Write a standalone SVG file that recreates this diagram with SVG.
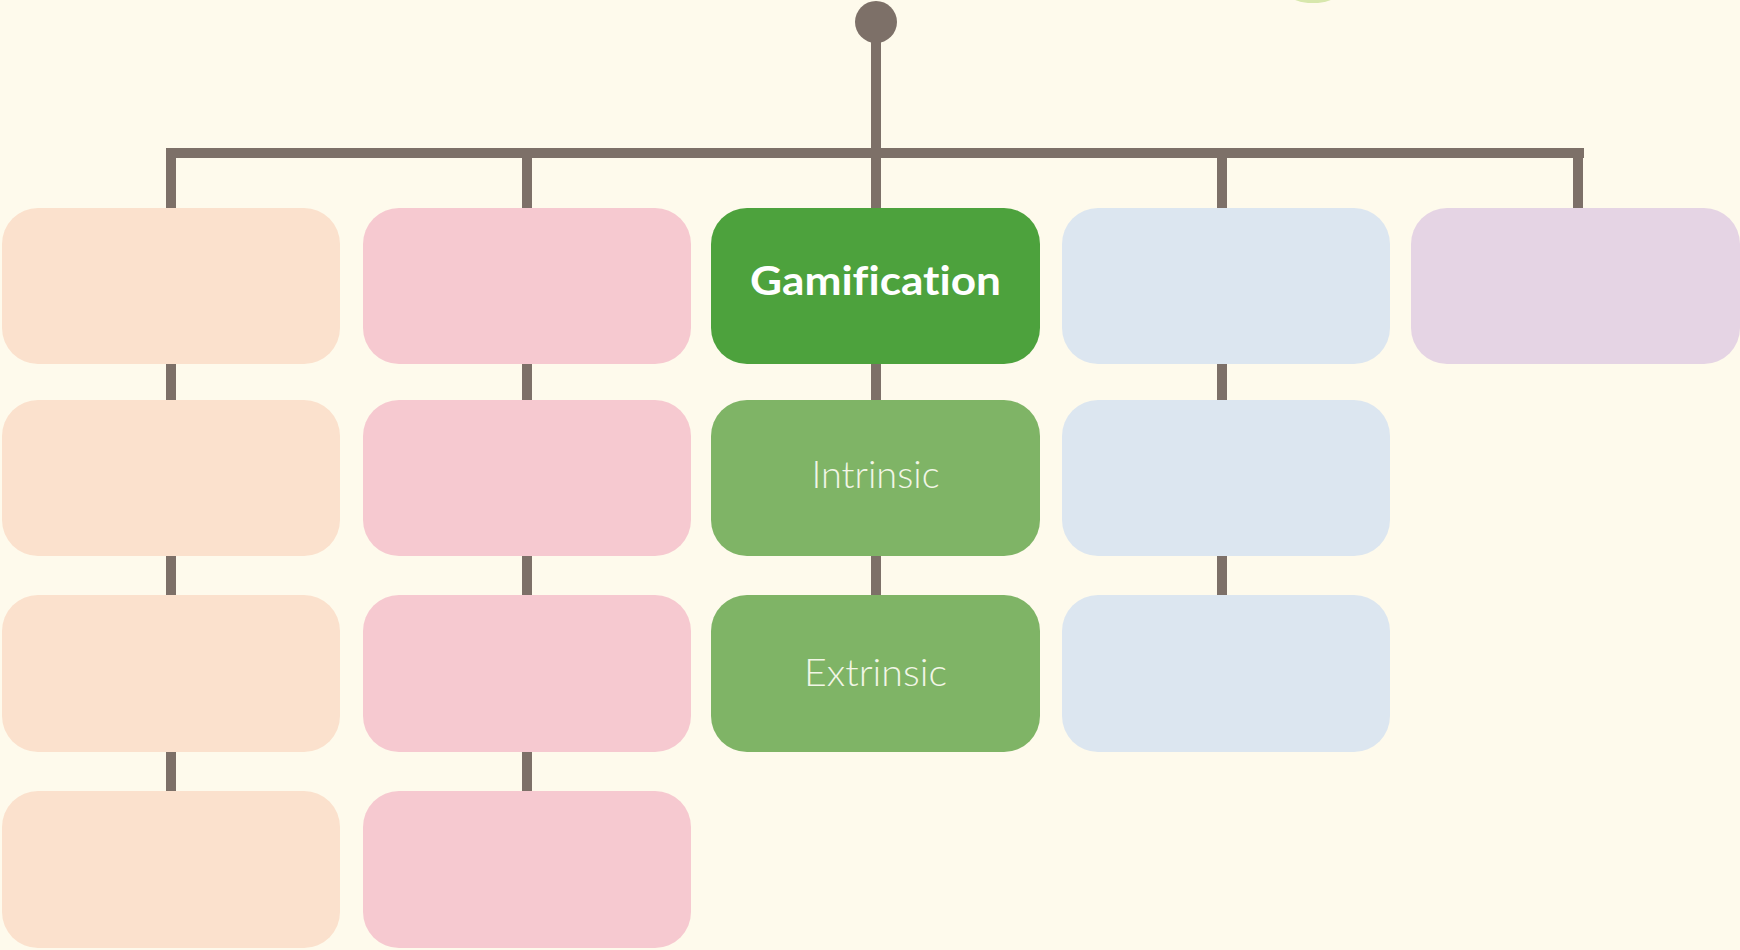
<svg xmlns="http://www.w3.org/2000/svg" width="1740" height="950" viewBox="0 0 1740 950">
  <style>
    .bg { fill: #FEFAEC; }
    .wire { fill: #7D7068; }
    .box { rx: 36px; ry: 36px; }
    .peach { fill: #FBE1CD; }
    .pink { fill: #F6C9D0; }
    .green { fill: #4DA23D; }
    .lgreen { fill: #7FB466; }
    .blue { fill: #DCE6F0; }
    .lilac { fill: #E5D4E4; }
    text { font-variant-ligatures: none; font-feature-settings: "liga" 0, "clig" 0; }
    .title { font-family: Lato, "Liberation Sans", sans-serif; font-weight: 700; font-size: 40px; fill: #FFFFFF; text-anchor: middle; }
    .sub { font-family: Lato, "Liberation Sans", sans-serif; font-weight: 300; font-size: 37px; fill: #F2F6E6; text-anchor: middle; }
  </style>

  <rect class="bg" x="0" y="0" width="1740" height="950"/>

  <!-- faint green shape cut by the top edge -->
  <ellipse cx="1313" cy="-8" rx="26" ry="11" fill="#A8D060" opacity="0.45"/>

  <!-- connectors -->
  <g id="connectors">
    <circle class="wire" cx="876" cy="22" r="21"/>
    <rect class="wire" x="871" y="22" width="10" height="136"/>
    <rect class="wire" x="166" y="148" width="1418" height="10"/>
    <!-- drops from the bar -->
    <rect class="wire" x="166" y="150" width="10" height="60"/>
    <rect class="wire" x="522" y="150" width="10" height="60"/>
    <rect class="wire" x="871" y="150" width="10" height="60"/>
    <rect class="wire" x="1217" y="150" width="10" height="60"/>
    <rect class="wire" x="1573" y="150" width="10" height="60"/>
    <!-- links between rows -->
    <rect class="wire" x="166" y="362" width="10" height="40"/>
    <rect class="wire" x="166" y="554" width="10" height="43"/>
    <rect class="wire" x="166" y="749" width="10" height="44"/>
    <rect class="wire" x="522" y="362" width="10" height="40"/>
    <rect class="wire" x="522" y="554" width="10" height="43"/>
    <rect class="wire" x="522" y="749" width="10" height="44"/>
    <rect class="wire" x="871" y="362" width="10" height="40"/>
    <rect class="wire" x="871" y="554" width="10" height="43"/>
    <rect class="wire" x="1217" y="362" width="10" height="40"/>
    <rect class="wire" x="1217" y="554" width="10" height="43"/>
  </g>

  <!-- column 1 -->
  <g id="peach-1"><rect class="box peach" x="2" y="208" width="338" height="156"/></g>
  <g id="peach-2"><rect class="box peach" x="2" y="400" width="338" height="156"/></g>
  <g id="peach-3"><rect class="box peach" x="2" y="595" width="338" height="157"/></g>
  <g id="peach-4"><rect class="box peach" x="2" y="791" width="338" height="157"/></g>

  <!-- column 2 -->
  <g id="pink-1"><rect class="box pink" x="363" y="208" width="328" height="156"/></g>
  <g id="pink-2"><rect class="box pink" x="363" y="400" width="328" height="156"/></g>
  <g id="pink-3"><rect class="box pink" x="363" y="595" width="328" height="157"/></g>
  <g id="pink-4"><rect class="box pink" x="363" y="791" width="328" height="157"/></g>

  <!-- column 3 -->
  <g id="gamification">
    <rect class="box green" x="711" y="208" width="329" height="156"/>
    <text class="title" x="875.5" y="295" textLength="251" lengthAdjust="spacingAndGlyphs">Gamification</text>
  </g>
  <g id="intrinsic">
    <rect class="box lgreen" x="711" y="400" width="329" height="156"/>
    <text class="sub" x="875.5" y="488" textLength="128" lengthAdjust="spacingAndGlyphs">Intrinsic</text>
  </g>
  <g id="extrinsic">
    <rect class="box lgreen" x="711" y="595" width="329" height="157"/>
    <text class="sub" x="875.5" y="686" textLength="143" lengthAdjust="spacingAndGlyphs">Extrinsic</text>
  </g>

  <!-- column 4 -->
  <g id="blue-1"><rect class="box blue" x="1062" y="208" width="328" height="156"/></g>
  <g id="blue-2"><rect class="box blue" x="1062" y="400" width="328" height="156"/></g>
  <g id="blue-3"><rect class="box blue" x="1062" y="595" width="328" height="157"/></g>

  <!-- column 5 -->
  <g id="lilac-1"><rect class="box lilac" x="1411" y="208" width="329" height="156"/></g>
</svg>
